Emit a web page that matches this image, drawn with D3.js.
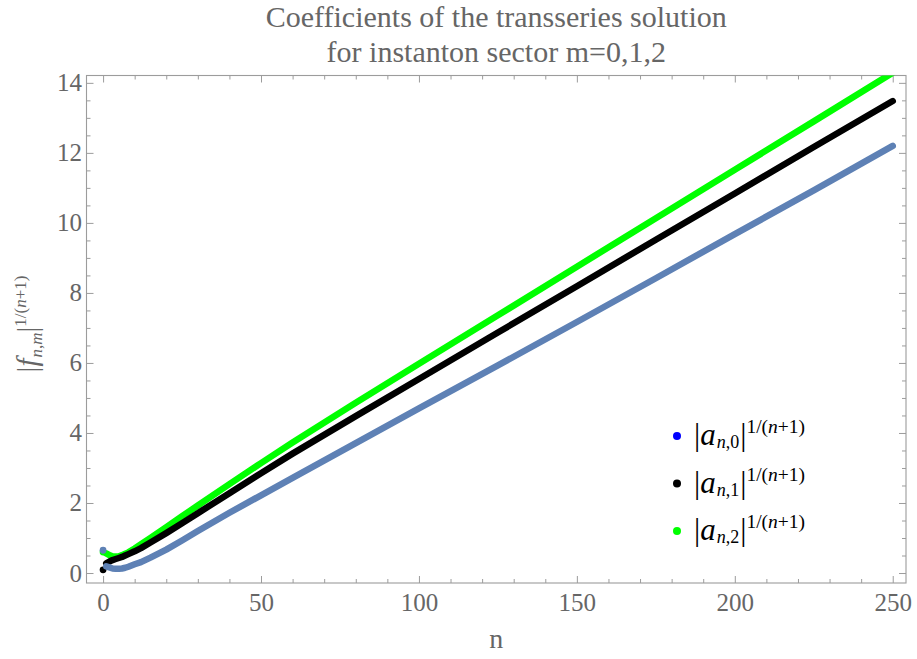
<!DOCTYPE html>
<html><head><meta charset="utf-8">
<script src="https://cdn.jsdelivr.net/npm/d3@7"></script>
<style>
body{margin:0;background:#fff}
svg{display:block}
text{font-family:"Liberation Serif","Times New Roman",serif}
</style>
</head><body>
<svg id="chart" width="917" height="659"></svg>
<script>
// ---------------- data ----------------
const nValues  = [0,1,2,3,4,5,6,7,8,10,12,15,20,25,30,40,50,60,80,100,125,150,175,200,225,250];
const seriesA0 = [0.65,0.19,0.16,0.13,0.12,0.12,0.13,0.15,0.18,0.25,0.31,0.44,0.67,0.93,1.20,1.72,2.22,2.72,3.71,4.70,5.93,7.17,8.42,9.68,10.93,12.20];
const seriesA1 = [0.09,0.28,0.33,0.37,0.40,0.43,0.46,0.50,0.54,0.62,0.71,0.87,1.14,1.42,1.71,2.28,2.85,3.41,4.48,5.54,6.87,8.19,9.52,10.84,12.17,13.48];
const seriesA2 = [0.60,0.56,0.51,0.48,0.47,0.48,0.51,0.55,0.59,0.70,0.82,1.00,1.31,1.62,1.93,2.54,3.14,3.73,4.86,5.98,7.36,8.75,10.13,11.52,12.90,14.29];
const seriesIndex = ["0","1","2"];
const seriesColors = ["#5e81b5","#000000","#00ff00"];
const legendColors = ["#0000ff","#000000","#00ff00"];
const xMajorTicks = [0,50,100,150,200,250];
const xMinorTicks = [10,20,30,40,60,70,80,90,110,120,130,140,160,170,180,190,210,220,230,240];
const yMajorTicks = [0,2,4,6,8,10,12,14];
const yMinorTicks = [0.5,1,1.5,2.5,3,3.5,4.5,5,5.5,6.5,7,7.5,8.5,9,9.5,10.5,11,11.5,12.5,13,13.5];
const xRange = [-5.25, 254.2];
const yRange = [-0.285, 14.21];
const titleLines = ["Coefficients of the transseries solution","for instanton sector m=0,1,2"];
const xLabel = "n";

// ---------------- layout ----------------
const L = 86.5, R = 906, T = 75.5, B = 583;
const frameColor = "#9c9c9c", textColor = "#666666";

const svg = d3.select("#chart");
const x = d3.scaleLinear().domain(xRange).range([L, R]);
const y = d3.scaleLinear().domain(yRange).range([B, T]);

// title
svg.append("g").selectAll("text").data(titleLines).join("text")
  .attr("x", (L + R) / 2).attr("y", (d, i) => 27 + i * 35)
  .attr("text-anchor", "middle").attr("font-size", 30).attr("fill", textColor)
  .text(d => d);

// clip
svg.append("clipPath").attr("id", "plotclip").append("rect")
  .attr("x", L).attr("y", T).attr("width", R - L).attr("height", B - T);

// axes (ticks inside frame)
function styleAxis(g) {
  g.select(".domain").remove();
  g.selectAll(".tick line").attr("stroke", frameColor).attr("stroke-width", 1);
  g.selectAll(".tick text").attr("fill", textColor).attr("font-size", 25)
    .attr("font-family", '"Liberation Serif",serif');
}
const big = 7, small = 4;
svg.append("g").attr("transform", `translate(0,${B})`)
  .call(d3.axisBottom(x).tickValues(xMajorTicks).tickSize(-big).tickFormat(d3.format("d")))
  .call(styleAxis)
  .call(g => g.selectAll(".tick text").attr("dy", "0.71em").attr("y", 10));
svg.append("g").attr("transform", `translate(0,${B})`)
  .call(d3.axisBottom(x).tickValues(xMinorTicks).tickSize(-small).tickFormat(""))
  .call(styleAxis);
svg.append("g").attr("transform", `translate(0,${T})`)
  .call(d3.axisTop(x).tickValues(xMajorTicks).tickSize(-big).tickFormat(""))
  .call(styleAxis);
svg.append("g").attr("transform", `translate(0,${T})`)
  .call(d3.axisTop(x).tickValues(xMinorTicks).tickSize(-small).tickFormat(""))
  .call(styleAxis);
svg.append("g").attr("transform", `translate(${L},0)`)
  .call(d3.axisLeft(y).tickValues(yMajorTicks).tickSize(-big).tickFormat(d3.format("d")))
  .call(styleAxis)
  .call(g => g.selectAll(".tick text").attr("x", -4.5));
svg.append("g").attr("transform", `translate(${L},0)`)
  .call(d3.axisLeft(y).tickValues(yMinorTicks).tickSize(-small).tickFormat(""))
  .call(styleAxis);
svg.append("g").attr("transform", `translate(${R},0)`)
  .call(d3.axisRight(y).tickValues(yMajorTicks).tickSize(-big).tickFormat(""))
  .call(styleAxis);
svg.append("g").attr("transform", `translate(${R},0)`)
  .call(d3.axisRight(y).tickValues(yMinorTicks).tickSize(-small).tickFormat(""))
  .call(styleAxis);

// frame
svg.append("rect").attr("x", L).attr("y", T).attr("width", R - L).attr("height", B - T)
  .attr("fill", "none").attr("stroke", frameColor).attr("stroke-width", 1.1);

// data
const allSeries = [seriesA0, seriesA1, seriesA2];
const plot = svg.append("g").attr("clip-path", "url(#plotclip)");
const line = d3.line().x(d => x(d[0])).y(d => y(d[1]));
const order = [2, 1, 0];
order.forEach(k => {
  const pts = nValues.map((n, i) => [n, allSeries[k][i]]);
  const g = plot.append("g");
  g.append("path").datum(pts.slice(1)).attr("d", line)
    .attr("fill", "none").attr("stroke", seriesColors[k]).attr("stroke-width", 6.5)
    .attr("stroke-linecap", "round").attr("stroke-linejoin", "round");
  g.selectAll("circle").data(pts.slice(0, 1)).join("circle")
    .attr("cx", d => x(d[0])).attr("cy", d => y(d[1])).attr("r", 3.4)
    .attr("fill", seriesColors[k]);
});

// x label
svg.append("text").attr("x", (L + R) / 2).attr("y", 648).attr("text-anchor", "middle")
  .attr("font-size", 28).attr("fill", textColor).text(xLabel);

// y label |f_{n,m}|^{1/(n+1)}
const yl = svg.append("text").attr("transform", `translate(37,324) rotate(-90)`)
  .attr("text-anchor", "middle").attr("fill", textColor).attr("font-size", 29);
yl.append("tspan").text("|");
yl.append("tspan").attr("font-style", "italic").text("f");
yl.append("tspan").attr("font-size", 17).attr("font-style", "italic").attr("dy", 5).attr("dx", 1).text("n");
yl.append("tspan").attr("font-size", 17).text(",");
yl.append("tspan").attr("font-size", 17).attr("font-style", "italic").text("m");
yl.append("tspan").attr("dy", -5).text("|");
yl.append("tspan").attr("font-size", 17).attr("dy", -11).text("1/(");
yl.append("tspan").attr("font-size", 17).attr("font-style", "italic").text("n");
yl.append("tspan").attr("font-size", 17).text("+1)");

// legend
const leg = svg.append("g");
seriesIndex.forEach((s, i) => {
  const cy = 436 + i * 47.5;
  leg.append("circle").attr("cx", 677).attr("cy", cy).attr("r", 4).attr("fill", legendColors[i]);
  const t = leg.append("text").attr("x", 694).attr("y", cy + 9).attr("font-size", 31).attr("fill", "#000");
  t.append("tspan").text("|");
  t.append("tspan").attr("font-style", "italic").text("a");
  t.append("tspan").attr("font-size", 18).attr("font-style", "italic").attr("dy", 3).attr("dx", 1).text("n");
  t.append("tspan").attr("font-size", 18).text("," + s);
  t.append("tspan").attr("dy", -3).attr("dx", 1).text("|");
  t.append("tspan").attr("font-size", 19.5).attr("dy", -12).text("1/(");
  t.append("tspan").attr("font-size", 19.5).attr("font-style", "italic").text("n");
  t.append("tspan").attr("font-size", 19.5).text("+1)");
});
</script>
</body></html>
